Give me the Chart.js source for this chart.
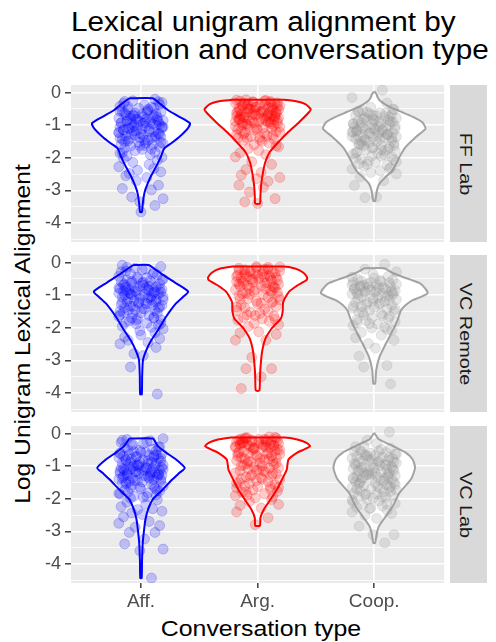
<!DOCTYPE html>
<html>
<head>
<meta charset="utf-8">
<script src="https://cdn.jsdelivr.net/npm/chart.js@4.4.1/dist/chart.umd.min.js"></script>
<style>
    body { margin: 0; background: #fff; font-family: 'Liberation Sans', Arial, sans-serif; }
    #wrap { position: relative; width: 496px; height: 642px; overflow: hidden; background: #fff; }
    canvas { position: absolute; left: 0; }
    .txt { position: absolute; white-space: nowrap; }
    #title { left: 70.5px; top: 8.3px; font-size: 27px; line-height: 28px; color: #000;
             transform: scaleX(1.1); transform-origin: 0 0; }
    #ytitle { left: 22.4px; top: 334px; font-size: 22px; line-height: 25px; color: #000;
              transform: translate(-50%, -50%) rotate(-90deg) scaleX(1.12); }
    #xtitle { left: 260.5px; top: 616px; font-size: 22px; line-height: 25px; color: #000;
              transform: translateX(-50%) scaleX(1.13); }
    .strip { position: absolute; left: 450px; width: 37px; height: 157px; background: #D9D9D9; }
    .strip span { position: absolute; left: 16px; top: 50%; font-size: 16.5px; line-height: 18.4px; color: #1A1A1A;
                  white-space: nowrap; transform: translate(-50%, -50%) rotate(90deg) scaleX(1.2); }
</style>
</head>
<body>
<div id="wrap">
    <div id="title" class="txt">Lexical unigram alignment by<br>condition and conversation type</div>
    <div id="ytitle" class="txt">Log Unigram Lexical Alignment</div>
    <div id="xtitle" class="txt">Conversation type</div>
</div>
<script>
// categories / facets
var conversationTypes = ["Aff.", "Arg.", "Coop."];
var conditions = ["FF Lab", "VC Remote", "VC Lab"];
var yTicks = [-4.5, -4, -3.5, -3, -2.5, -2, -1.5, -1, -0.5, 0];

// horizontal jitter of the points (category units)
var jitter = [0.12, -0.07, 0.18, -0.15, 0.03, -0.18, 0.09, -0.02, 0.15, -0.11,
    0.06, -0.16, 0.17, -0.05, 0.01, -0.13, 0.11, -0.09, 0.14, -0.19,
    0.05, -0.03, 0.19, -0.12, 0.08, -0.17, 0.02, -0.08, 0.16, -0.14,
    0.10, -0.01, 0.13, -0.06, 0.04, -0.18, 0.18, -0.10, 0.07, -0.15,
    -0.04, 0.11, -0.19, 0.15, -0.08, 0.02, -0.13, 0.17, -0.01, 0.09,
    -0.16, 0.06, -0.11, 0.19, -0.06, 0.13, -0.02, 0.04, -0.17, 0.10,
    -0.09, 0.16, -0.14, 0.01, -0.05, 0.12, -0.18, 0.08, -0.12, 0.18,
    0.03, -0.15, 0.14, -0.07, 0.07, -0.19, 0.11, -0.03, 0.17, -0.10,
    -0.13, 0.05, -0.04, 0.15, -0.16, 0.09, -0.08, 0.19, -0.01, 0.12,
    0.00, -0.14, 0.16, -0.11, 0.06, -0.18, 0.13, -0.06, 0.02, -0.09,
    0.14, -0.12, 0.04, -0.17, 0.10, -0.03, 0.18, -0.08, 0.01, -0.15,
    0.07, -0.19, 0.16, -0.05, 0.12, -0.10, 0.03, -0.14, 0.19, -0.01,
    0.09, -0.16, 0.05, -0.07, 0.15, -0.11, 0.00, -0.18, 0.11, -0.04,
    0.17, -0.13, 0.06, -0.09, 0.13, -0.02];

// violin outlines: [y, half width]
var ffLabAffViolin = [[-0.17, 0.1], [-0.3, 0.15], [-0.53, 0.23], [-0.74, 0.33], [-0.94, 0.42], [-1.1, 0.4], [-1.35, 0.33],
    [-1.55, 0.26], [-1.71, 0.2], [-1.97, 0.17], [-2.2, 0.14], [-2.38, 0.113], [-2.6, 0.08], [-2.79, 0.057],
    [-3.0, 0.035], [-3.2, 0.023], [-3.45, 0.014], [-3.66, 0.008]];
var ffLabArgViolin = [[-0.22, 0.22], [-0.26, 0.33], [-0.35, 0.41], [-0.5, 0.455], [-0.6, 0.44], [-0.89, 0.36], [-1.2, 0.265],
    [-1.51, 0.18], [-1.82, 0.104], [-2.12, 0.067], [-2.43, 0.047], [-2.84, 0.03], [-3.15, 0.024], [-3.4, 0.02]];
var ffLabCoopViolin = [[0.03, 0.004], [-0.05, 0.02], [-0.15, 0.03], [-0.25, 0.05], [-0.35, 0.09], [-0.45, 0.14], [-0.6, 0.24],
    [-0.74, 0.33], [-0.9, 0.41], [-1.1, 0.44], [-1.35, 0.36], [-1.66, 0.27], [-1.97, 0.216], [-2.28, 0.173],
    [-2.45, 0.14], [-2.58, 0.1], [-2.79, 0.045], [-3.0, 0.023], [-3.32, 0.008]];
var vcRemoteAffViolin = [[-0.07, 0.065], [-0.2, 0.12], [-0.33, 0.17], [-0.63, 0.3], [-0.89, 0.405], [-1.05, 0.36], [-1.25, 0.3],
    [-1.66, 0.215], [-2.07, 0.145], [-2.38, 0.088], [-2.69, 0.045], [-2.99, 0.017], [-3.5, 0.01], [-4.04, 0.007]];
var vcRemoteArgViolin = [[-0.12, 0.22], [-0.18, 0.32], [-0.3, 0.39], [-0.45, 0.425], [-0.53, 0.42], [-0.7, 0.34], [-0.89, 0.27],
    [-1.2, 0.22], [-1.5, 0.215], [-1.71, 0.2], [-1.9, 0.15], [-2.02, 0.12], [-2.33, 0.067], [-2.74, 0.038],
    [-3.25, 0.024], [-3.56, 0.02], [-3.92, 0.015]];
var vcRemoteCoopViolin = [[-0.17, 0.085], [-0.3, 0.15], [-0.43, 0.24], [-0.63, 0.39], [-0.8, 0.44], [-0.94, 0.457], [-1.05, 0.4],
    [-1.15, 0.33], [-1.3, 0.27], [-1.46, 0.23], [-1.76, 0.2], [-2.07, 0.16], [-2.48, 0.1], [-2.89, 0.045],
    [-3.3, 0.017], [-3.71, 0.008]];
var vcLabAffViolin = [[-0.15, 0.1], [-0.38, 0.145], [-0.58, 0.215], [-0.79, 0.3], [-1.05, 0.375], [-1.2, 0.33], [-1.4, 0.27],
    [-1.71, 0.187], [-2.02, 0.1], [-2.33, 0.06], [-2.6, 0.04], [-2.84, 0.03], [-3.35, 0.015], [-3.9, 0.009], [-4.43, 0.006]];
var vcLabArgViolin = [[-0.12, 0.23], [-0.18, 0.34], [-0.28, 0.42], [-0.38, 0.45], [-0.48, 0.4], [-0.58, 0.34], [-0.79, 0.265],
    [-1.1, 0.25], [-1.4, 0.21], [-1.71, 0.166], [-2.02, 0.11], [-2.33, 0.052], [-2.58, 0.024], [-2.82, 0.02]];
var vcLabCoopViolin = [[0.01, 0.004], [-0.08, 0.02], [-0.17, 0.04], [-0.28, 0.1], [-0.38, 0.16], [-0.58, 0.27], [-0.79, 0.33],
    [-1.05, 0.35], [-1.4, 0.315], [-1.82, 0.215], [-2.22, 0.16], [-2.53, 0.1], [-2.84, 0.04], [-3.04, 0.023], [-3.35, 0.008]];

// log unigram lexical alignment per conversation
var ffLabAffPoints = [-0.2, -0.25, -0.3, -0.33, -0.38, -0.42, -0.45, -0.48, -0.28,
    -0.52, -0.55, -0.58, -0.6, -0.63, -0.66, -0.68, -0.7, -0.73, -0.75, -0.78, -0.8, -0.82, -0.85, -0.87, -0.9, -0.92, -0.94, -0.95, -0.97, -0.62, -0.77, -0.88, -0.99,
    -1.01, -1.03, -1.06, -1.08, -1.1, -1.12, -1.15, -1.17, -1.2, -1.22, -1.25, -1.28, -1.3, -1.33, -1.35, -1.38, -1.4, -1.43, -1.46, -1.48, -1.05, -1.18, -1.32,
    -1.52, -1.55, -1.58, -1.6, -1.64, -1.67, -1.7, -1.74, -1.78, -1.82, -1.86, -1.9, -1.94, -1.98, -1.62,
    -2.02, -2.08, -2.14, -2.2, -2.27, -2.33, -2.38, -2.43, -2.48,
    -2.55, -2.6, -2.7, -2.84, -2.94, -2.98, -3.2, -3.25, -3.35, -3.46, -3.66,
    -0.27, -0.36, -0.44, -0.51, -0.57, -0.64, -0.69, -0.74, -0.79, -0.83, -0.86, -0.91, -0.93, -0.96, -1.0, -1.04, -1.07, -1.11, -1.14, -1.19,
    -1.23, -1.27, -1.31, -1.36, -1.41, -1.45, -1.5, -1.56, -1.63, -1.72, -1.84, -0.59, -0.71, -0.89, -1.09, -1.26, -1.39, -0.47, -0.81, -1.53];
var ffLabArgPoints = [-0.22, -0.24, -0.26, -0.28, -0.3, -0.32, -0.34, -0.36, -0.38, -0.4, -0.42, -0.44, -0.46, -0.48, -0.25, -0.33, -0.41,
    -0.51, -0.53, -0.55, -0.56, -0.58, -0.6, -0.61, -0.63, -0.65, -0.66, -0.68, -0.7, -0.72, -0.73, -0.75, -0.77, -0.79, -0.8, -0.82, -0.84, -0.86, -0.88, -0.9, -0.92, -0.94, -0.96, -0.98, -0.57, -0.64, -0.71, -0.83, -0.91,
    -1.02, -1.05, -1.08, -1.1, -1.13, -1.16, -1.19, -1.22, -1.25, -1.28, -1.31, -1.34, -1.37, -1.4, -1.43, -1.46, -1.49, -1.12,
    -1.55, -1.6, -1.66, -1.72, -1.78, -1.84, -1.9, -1.97, -1.63,
    -2.12, -2.2, -2.36, -2.45, -2.53, -2.6, -2.64,
    -2.72, -2.84, -2.9, -3.05, -3.25, -3.35, -3.4,
    -0.23, -0.27, -0.29, -0.31, -0.35, -0.37, -0.39, -0.43, -0.45, -0.47, -0.49, -0.52, -0.54, -0.59, -0.62, -0.67, -0.69, -0.74, -0.76, -0.78,
    -0.81, -0.85, -0.87, -0.89, -0.93, -0.95, -0.97, -1.0, -1.04, -1.07, -1.15, -1.21, -1.27, -1.33, -1.39, -1.45, -0.5, -0.6, -0.7, -0.8];
var ffLabCoopPoints = [0.08, -0.15, -0.32, -0.45,
    -0.52, -0.55, -0.58, -0.62, -0.65, -0.68, -0.7, -0.73, -0.76, -0.78, -0.8, -0.83, -0.85, -0.87, -0.9, -0.92, -0.94, -0.96, -0.98, -0.6, -0.71, -0.81, -0.89,
    -1.01, -1.03, -1.05, -1.07, -1.09, -1.11, -1.13, -1.15, -1.17, -1.19, -1.21, -1.23, -1.25, -1.27, -1.29, -1.31, -1.33, -1.35, -1.37, -1.39, -1.41, -1.43, -1.45, -1.47, -1.49, -1.1, -1.2, -1.3,
    -1.52, -1.55, -1.58, -1.61, -1.64, -1.67, -1.7, -1.73, -1.76, -1.79, -1.82, -1.85, -1.88, -1.91, -1.94, -1.97, -1.6, -1.75,
    -2.02, -2.06, -2.1, -2.14, -2.18, -2.22, -2.26, -2.3, -2.35, -2.4, -2.45, -2.49,
    -2.58, -2.7, -2.85, -3.2, -3.22,
    -0.5, -0.57, -0.63, -0.69, -0.75, -0.82, -0.88, -0.95, -1.02, -1.08, -1.14, -1.18, -1.24, -1.28, -1.34,
    -1.38, -1.44, -1.5, -1.57, -1.63, -1.69, -1.78, -1.86, -1.95, -2.04, -2.12, -2.2, -2.33, -0.97, -1.22];
var vcRemoteAffPoints = [-0.08, -0.12, -0.17, -0.22, -0.26, -0.3, -0.34, -0.38, -0.42, -0.46, -0.49,
    -0.51, -0.53, -0.56, -0.58, -0.6, -0.62, -0.65, -0.67, -0.7, -0.72, -0.74, -0.76, -0.78, -0.8, -0.82, -0.84, -0.86, -0.88, -0.9, -0.92, -0.94, -0.96, -0.98, -0.69, -0.85, -0.91,
    -1.01, -1.03, -1.06, -1.09, -1.12, -1.14, -1.17, -1.2, -1.22, -1.25, -1.28, -1.3, -1.33, -1.36, -1.38, -1.41, -1.44, -1.47, -1.49, -1.07, -1.19, -1.31, -1.42,
    -1.52, -1.55, -1.58, -1.62, -1.65, -1.69, -1.72, -1.75, -1.79, -1.82, -1.85, -1.88, -1.92, -1.95, -1.98, -1.7,
    -2.03, -2.09, -2.15, -2.22, -2.28, -2.33, -2.38, -2.45, -2.49,
    -2.6, -2.79, -2.85, -3.2, -4.03,
    -0.14, -0.2, -0.28, -0.36, -0.44, -0.52, -0.57, -0.63, -0.68, -0.73, -0.77, -0.81, -0.87, -0.89, -0.93, -0.97, -1.0, -1.05,
    -1.1, -1.15, -1.21, -1.27, -1.34, -1.4, -1.46, -1.54, -1.6, -1.68, -1.77, -1.87, -0.75, -0.83, -0.95, -1.13, -1.24];
var vcRemoteArgPoints = [-0.12, -0.14, -0.17, -0.2, -0.22, -0.25, -0.27, -0.3, -0.33, -0.35, -0.38, -0.4, -0.43, -0.45, -0.47, -0.49,
    -0.52, -0.55, -0.58, -0.61, -0.64, -0.67, -0.7, -0.72, -0.75, -0.78, -0.8, -0.83, -0.86, -0.88, -0.91, -0.93, -0.95, -0.98, -0.6, -0.77,
    -1.02, -1.06, -1.1, -1.14, -1.18, -1.22, -1.26, -1.3, -1.34, -1.38, -1.42, -1.46, -1.2,
    -1.52, -1.56, -1.6, -1.64, -1.68, -1.72, -1.76, -1.8, -1.86, -1.9, -1.96,
    -2.12, -2.15, -2.38, -2.38, -2.2,
    -2.9, -3.25, -3.25, -3.5, -3.86,
    -0.13, -0.16, -0.19, -0.23, -0.26, -0.29, -0.32, -0.36, -0.39, -0.42, -0.46, -0.5, -0.54, -0.57, -0.63,
    -0.69, -0.74, -0.82, -0.9, -0.97, -1.04, -1.12, -1.24, -1.36, -1.5, -1.62, -1.74, -0.3, -0.44, -0.66];
var vcRemoteCoopPoints = [-0.05, -0.2, -0.28, -0.35, -0.42, -0.47,
    -0.51, -0.53, -0.56, -0.58, -0.6, -0.62, -0.65, -0.67, -0.7, -0.72, -0.74, -0.77, -0.79, -0.82, -0.84, -0.86, -0.88, -0.9, -0.92, -0.94, -0.96, -0.98, -0.75,
    -1.01, -1.04, -1.07, -1.1, -1.13, -1.16, -1.19, -1.22, -1.25, -1.28, -1.31, -1.34, -1.37, -1.4, -1.43, -1.46, -1.49,
    -1.53, -1.57, -1.61, -1.65, -1.69, -1.73, -1.77, -1.81, -1.85, -1.89, -1.93, -1.97,
    -2.0, -2.07, -2.14, -2.22, -2.3, -2.38, -2.48,
    -2.62, -2.87, -3.15, -3.2, -3.72,
    -0.45, -0.55, -0.61, -0.66, -0.71, -0.76, -0.81, -0.85, -0.89, -0.93, -0.97, -1.03, -1.09,
    -1.15, -1.21, -1.27, -1.33, -1.42, -1.52, -1.63, -1.75, -1.87, -2.04, -0.68, -0.87];
var vcLabAffPoints = [-0.15, -0.18, -0.22, -0.27, -0.31, -0.35, -0.4, -0.44, -0.48,
    -0.51, -0.53, -0.55, -0.57, -0.6, -0.62, -0.64, -0.66, -0.68, -0.7, -0.72, -0.74, -0.76, -0.78, -0.8, -0.82, -0.84, -0.86, -0.88, -0.9, -0.92, -0.94, -0.96, -0.98, -0.65,
    -1.01, -1.03, -1.05, -1.07, -1.09, -1.11, -1.13, -1.15, -1.17, -1.19, -1.21, -1.23, -1.25, -1.27, -1.29, -1.31, -1.33, -1.35, -1.37, -1.39, -1.41, -1.43, -1.45, -1.47, -1.49, -1.06, -1.16, -1.26,
    -1.52, -1.55, -1.58, -1.61, -1.64, -1.67, -1.7, -1.73, -1.76, -1.79, -1.82, -1.85, -1.88, -1.92, -1.95, -1.98,
    -2.03, -2.1, -2.17, -2.24, -2.3, -2.33, -2.38, -2.43, -2.48,
    -2.55, -2.69, -2.75, -2.82, -2.87, -3.03, -3.03, -3.23, -3.38, -3.54, -3.59, -4.43,
    -0.2, -0.25, -0.33, -0.42, -0.5, -0.56, -0.61, -0.67, -0.71, -0.75, -0.79, -0.83, -0.87, -0.91, -0.95, -0.99, -1.02, -1.04, -1.08, -1.12,
    -1.14, -1.18, -1.22, -1.24, -1.28, -1.32, -1.36, -1.4, -1.44, -1.48, -1.54, -1.6, -1.66, -1.74, -1.83, -1.93, -0.97, -1.1, -1.2, -1.3];
var vcLabArgPoints = [-0.1, -0.12, -0.14, -0.16, -0.18, -0.2, -0.22, -0.24, -0.26, -0.28, -0.3, -0.32, -0.34, -0.36, -0.38, -0.4, -0.42, -0.44, -0.46, -0.48, -0.15, -0.25, -0.35,
    -0.51, -0.53, -0.56, -0.58, -0.61, -0.63, -0.66, -0.68, -0.7, -0.73, -0.75, -0.78, -0.8, -0.82, -0.85, -0.87, -0.9, -0.92, -0.94, -0.97, -0.99, -0.6, -0.77,
    -1.02, -1.05, -1.08, -1.11, -1.14, -1.17, -1.2, -1.23, -1.26, -1.29, -1.32, -1.35, -1.38, -1.41, -1.44, -1.47, -1.5, -1.15,
    -1.53, -1.57, -1.6, -1.63, -1.66, -1.7, -1.73, -1.77, -1.8, -1.84, -1.88, -1.93, -1.97,
    -2.02, -2.08, -2.17, -2.2, -2.28, -2.4, -2.58, -2.79,
    -0.11, -0.13, -0.17, -0.19, -0.21, -0.23, -0.27, -0.29, -0.31, -0.33, -0.37, -0.39, -0.41, -0.45, -0.5, -0.55, -0.62,
    -0.69, -0.76, -0.84, -0.91, -0.98, -1.06, -1.13, -1.22, -1.31, -1.4, -1.52, -1.65, -1.78, -0.2, -0.3, -0.43, -1.62, -1.9];
var vcLabCoopPoints = [0.05, -0.2, -0.3, -0.38, -0.45,
    -0.51, -0.53, -0.55, -0.58, -0.6, -0.62, -0.65, -0.67, -0.7, -0.72, -0.75, -0.77, -0.8, -0.82, -0.84, -0.86, -0.88, -0.9, -0.92, -0.94, -0.96, -0.98, -0.69,
    -1.01, -1.03, -1.05, -1.07, -1.09, -1.11, -1.13, -1.15, -1.17, -1.19, -1.21, -1.23, -1.25, -1.27, -1.29, -1.31, -1.33, -1.35, -1.37, -1.39, -1.41, -1.43, -1.45, -1.47, -1.49, -1.2,
    -1.52, -1.54, -1.57, -1.6, -1.62, -1.65, -1.68, -1.7, -1.73, -1.76, -1.78, -1.81, -1.84, -1.87, -1.9, -1.92, -1.95, -1.98, -1.66,
    -2.02, -2.06, -2.1, -2.14, -2.18, -2.22, -2.26, -2.3, -2.35, -2.4, -2.45, -2.5,
    -2.6, -2.84, -3.1, -3.1, -3.35,
    -0.4, -0.48, -0.56, -0.63, -0.68, -0.73, -0.79, -0.85, -0.91, -0.97, -1.02, -1.08, -1.14, -1.2, -1.26,
    -1.32, -1.38, -1.44, -1.5, -1.56, -1.63, -1.7, -1.77, -1.85, -1.93, -2.04, -2.16, -2.28, -0.87, -1.35];

var violins = [
    [ffLabAffViolin, ffLabArgViolin, ffLabCoopViolin],
    [vcRemoteAffViolin, vcRemoteArgViolin, vcRemoteCoopViolin],
    [vcLabAffViolin, vcLabArgViolin, vcLabCoopViolin]
];
var points = [
    [ffLabAffPoints, ffLabArgPoints, ffLabCoopPoints],
    [vcRemoteAffPoints, vcRemoteArgPoints, vcRemoteCoopPoints],
    [vcLabAffPoints, vcLabArgPoints, vcLabCoopPoints]
];

// look
var lineColors = ['#0000FF', '#FF0000', '#A3A3A3'];
var pointFill = ['rgba(0,0,255,0.2)', 'rgba(255,0,0,0.2)', 'rgba(150,150,150,0.22)'];
var pointEdge = ['rgba(0,0,255,0.24)', 'rgba(255,0,0,0.24)', 'rgba(150,150,150,0.25)'];
var panelTops = [85, 255, 426];
var panelHeight = 157;

Chart.defaults.font.family = "'Liberation Sans', Arial, sans-serif";

var panelBackground = {
    id: 'panelBackground',
    beforeDraw: function(chart) {
        var a = chart.chartArea;
        var ctx = chart.ctx;
        ctx.save();
        ctx.fillStyle = '#EBEBEB';
        ctx.fillRect(a.left, a.top, a.right - a.left, a.bottom - a.top);
        ctx.restore();
    }
};

function ViolinOutline(shape, center) {
    //closed polygon: top left -> right side down -> left side up
    var out = [{ x: center - shape[0][1], y: shape[0][0] }];
    for (var i = 0; i < shape.length; i++) {
        out.push({ x: center + shape[i][1], y: shape[i][0] });
    }
    for (var j = shape.length - 1; j >= 0; j--) {
        out.push({ x: center - shape[j][1], y: shape[j][0] });
    }
    return out;
}

function JitterPoints(values, center, shift) {
    return values.map(function(v, i) {
        return { x: center + jitter[(i + shift) % jitter.length], y: v };
    });
}

function isMajor(ctx) {
    return ctx.tick && Number.isInteger(ctx.tick.value);
}

function DrawPanel(p) {
    var isBottom = p == conditions.length - 1;
    var wrap = document.getElementById('wrap');

    var canvas = document.createElement('canvas');
    canvas.width = 450;
    canvas.height = isBottom ? panelHeight + 50 : panelHeight + 20;
    canvas.style.top = (panelTops[p] - 10) + 'px';
    wrap.appendChild(canvas);

    var strip = document.createElement('div');
    strip.className = 'strip';
    strip.style.top = panelTops[p] + 'px';
    strip.innerHTML = '<span>' + conditions[p] + '</span>';
    wrap.appendChild(strip);

    var datasets = [];
    for (var g = 0; g < conversationTypes.length; g++) {
        datasets.push({
            data: JitterPoints(points[p][g], g + 1, g * 37 + p * 11),
            order: 0,
            showLine: false,
            pointRadius: 5,
            pointBackgroundColor: pointFill[g],
            pointBorderColor: pointEdge[g],
            pointBorderWidth: 0.8
        });
        datasets.push({
            data: ViolinOutline(violins[p][g], g + 1),
            order: 1,
            showLine: true,
            pointRadius: 0,
            borderColor: lineColors[g],
            borderWidth: 2,
            backgroundColor: '#FFFFFF',
            fill: 'shape',
            tension: 0.2
        });
    }

    new Chart(canvas.getContext('2d'), {
        type: 'scatter',
        data: { datasets: datasets },
        plugins: [panelBackground],
        options: {
            responsive: false,
            animation: false,
            devicePixelRatio: 1,
            events: [],
            layout: { padding: { top: 10, right: 1, bottom: isBottom ? 0 : 10, left: 0 } },
            plugins: { legend: { display: false }, tooltip: { enabled: false } },
            scales: {
                x: {
                    type: 'linear',
                    min: 0.4,
                    max: 3.6,
                    afterBuildTicks: function(s) {
                        s.ticks = [1, 2, 3].map(function(v) { return { value: v }; });
                    },
                    afterFit: function(s) {
                        s.height = isBottom ? 40 : 0;
                        s.paddingLeft = 0;
                        s.paddingRight = 0;
                    },
                    border: { display: false },
                    grid: {
                        color: '#FFFFFF',
                        lineWidth: 1.6,
                        tickLength: 5,
                        tickWidth: 1.4,
                        tickColor: isBottom ? '#333333' : 'rgba(0,0,0,0)'
                    },
                    ticks: {
                        display: isBottom,
                        autoSkip: false,
                        maxRotation: 0,
                        padding: 2,
                        color: '#4D4D4D',
                        font: { size: 19 },
                        callback: function(v) { return conversationTypes[Math.round(v) - 1]; }
                    }
                },
                y: {
                    min: -4.58,
                    max: 0.236,
                    afterBuildTicks: function(s) {
                        s.ticks = yTicks.map(function(v) { return { value: v }; });
                    },
                    afterFit: function(s) {
                        s.width = 71;
                        s.paddingTop = 0;
                        s.paddingBottom = 0;
                    },
                    border: { display: false },
                    grid: {
                        color: '#FFFFFF',
                        lineWidth: function(ctx) { return isMajor(ctx) ? 1.6 : 0.8; },
                        tickLength: 6,
                        tickWidth: 1.4,
                        tickColor: function(ctx) { return isMajor(ctx) ? '#333333' : 'rgba(0,0,0,0)'; }
                    },
                    ticks: {
                        autoSkip: false,
                        padding: 4,
                        color: '#4D4D4D',
                        font: { size: 18 },
                        callback: function(v) { return Number.isInteger(v) ? String(v) : ''; }
                    }
                }
            }
        }
    });
}

for (var p = 0; p < conditions.length; p++) {
    DrawPanel(p);
}
</script>
</body>
</html>
